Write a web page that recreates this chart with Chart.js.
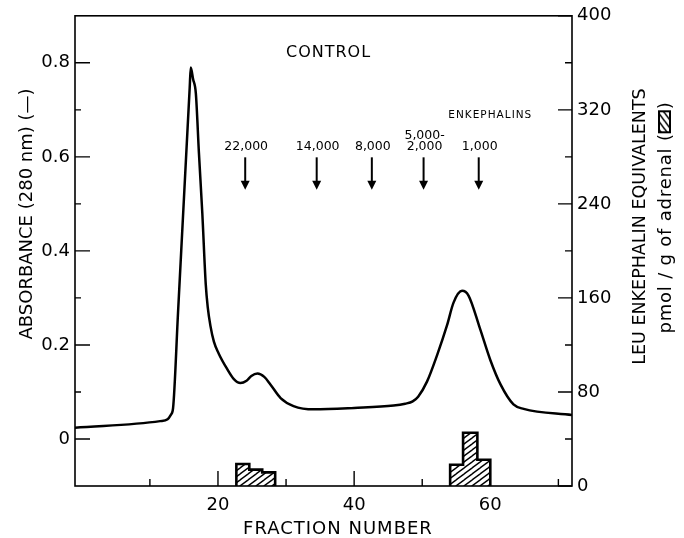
<!DOCTYPE html>
<html><head><meta charset="utf-8">
<script src="https://cdn.jsdelivr.net/npm/chart.js@4"></script>
<style>html,body{margin:0;padding:0;background:#fff}canvas{display:block}</style>
</head><body>
<canvas id="c" width="684" height="538"></canvas>
<script>
// ---------------- data ----------------
const absFraction = [-1, 11.5, 12.6, 13.1, 13.4, 14.13, 14.92, 15.5, 15.85, 16.0, 16.35, 16.75, 17.2, 17.7, 18.2, 18.5, 18.9, 19.4, 20.1, 21.3, 22.3, 23.3, 24.2, 24.9, 25.8, 26.8, 27.7, 29.2, 31.1, 34.1, 40.0, 45.8, 47.5, 48.6, 49.4, 50.7, 52.2, 53.65, 54.6, 55.85, 56.8, 58.5, 60.0, 61.5, 63.4, 64.9, 72];
const absValue    = [0.024, 0.038, 0.042, 0.052, 0.065, 0.268, 0.489, 0.651, 0.748, 0.79, 0.765, 0.735, 0.609, 0.48, 0.33, 0.28, 0.24, 0.207, 0.182, 0.150, 0.128, 0.119, 0.124, 0.134, 0.139, 0.132, 0.116, 0.087, 0.070, 0.063, 0.066, 0.071, 0.075, 0.080, 0.090, 0.122, 0.179, 0.242, 0.290, 0.315, 0.305, 0.234, 0.168, 0.116, 0.0735, 0.064, 0.051];

const histEdgesA  = [22.7, 24.6, 26.5, 28.4];
const histValuesA = [18.7, 13.9, 11.6];
const histEdgesB  = [54.1, 56.0, 58.1, 60.0];
const histValuesB = [18.1, 45.3, 22.3];

const markerFraction = [24.0, 34.5, 42.6, 50.2, 58.3];
const markerLabels   = [['22,000'], ['14,000'], ['8,000'], ['5,000-', '2,000'], ['1,000']];

const xTicks = [20, 40, 60];
const xTickLabels = ['20', '40', '60'];
const xMinor = [10, 30, 50, 70];
const leftTicks = [0, 0.2, 0.4, 0.6, 0.8];
const leftTickLabels = ['0', '0.2', '0.4', '0.6', '0.8'];
const leftMinor = [0.1, 0.3, 0.5, 0.7];
const rightTicks = [0, 80, 160, 240, 320, 400];
const rightTickLabels = ['0', '80', '160', '240', '320', '400'];
const rightMinor = [40, 120, 200, 280, 360];

// ---------------- styling helpers ----------------
const FONT = 'DejaVu Sans';
function makeHatch() {
  const w = 8, h = 6;
  const c = document.createElement('canvas');
  c.width = w; c.height = h;
  const g = c.getContext('2d');
  g.fillStyle = '#fff'; g.fillRect(0, 0, w, h);
  g.strokeStyle = '#000'; g.lineWidth = 1.4;
  for (let k = -1; k <= 1; k++) {
    g.beginPath();
    g.moveTo(-w + k * w, 2 * h);
    g.lineTo(2 * w + k * w, -h);
    g.stroke();
  }
  return document.getElementById('c').getContext('2d').createPattern(c, 'repeat');
}
const hatch = makeHatch();

function stepPoints(edges, vals) {
  const pts = [{x: edges[0], y: 0}];
  for (let i = 0; i < vals.length; i++) pts.push({x: edges[i + 1], y: vals[i]});
  pts.push({x: edges[edges.length - 1], y: 0});
  return pts;
}

const decor = {
  id: 'decor',
  afterDraw(chart) {
    const ctx = chart.ctx;
    const a = chart.chartArea;
    const xs = chart.scales.x, ys = chart.scales.y, y2 = chart.scales.y2;
    ctx.save();
    ctx.strokeStyle = '#000';
    ctx.fillStyle = '#000';
    // frame
    ctx.lineWidth = 1.6;
    ctx.strokeRect(a.left, a.top, a.right - a.left, a.bottom - a.top);
    // inner ticks
    ctx.lineWidth = 1.4;
    ctx.beginPath();
    leftTicks.forEach(v => { const p = ys.getPixelForValue(v); ctx.moveTo(a.left, p); ctx.lineTo(a.left + 15, p); });
    leftMinor.forEach(v => { const p = ys.getPixelForValue(v); ctx.moveTo(a.left, p); ctx.lineTo(a.left + 6, p); });
    rightTicks.forEach(v => { const p = y2.getPixelForValue(v); ctx.moveTo(a.right, p); ctx.lineTo(a.right - 14, p); });
    rightMinor.forEach(v => { const p = y2.getPixelForValue(v); ctx.moveTo(a.right, p); ctx.lineTo(a.right - 7, p); });
    xTicks.forEach(v => { const p = xs.getPixelForValue(v); ctx.moveTo(p, a.bottom); ctx.lineTo(p, a.bottom - 15); });
    xMinor.forEach(v => { const p = xs.getPixelForValue(v); ctx.moveTo(p, a.bottom); ctx.lineTo(p, a.bottom - 7); });
    ctx.stroke();

    // CONTROL
    ctx.textAlign = 'center';
    ctx.textBaseline = 'middle';
    ctx.font = '16px "' + FONT + '"';
    ctx.letterSpacing = '1px';
    ctx.fillText('CONTROL', xs.getPixelForValue(36.24), ys.getPixelForValue(0.822));
    // ENKEPHALINS
    ctx.font = '10.5px "' + FONT + '"';
    ctx.letterSpacing = '1px';
    ctx.fillText('ENKEPHALINS', xs.getPixelForValue(60.0), ys.getPixelForValue(0.688));
    // markers
    ctx.font = '12.5px "' + FONT + '"';
    ctx.letterSpacing = '0px';
    markerFraction.forEach((f, i) => {
      const px = xs.getPixelForValue(f);
      const lines = markerLabels[i];
      const baseY = ys.getPixelForValue(0.621);
      lines.forEach((t, j) => {
        ctx.fillText(t, px + 1, baseY - (lines.length - 1 - j) * 11);
      });
      const top = ys.getPixelForValue(0.599);
      const tip = ys.getPixelForValue(0.530);
      ctx.lineWidth = 2;
      ctx.beginPath(); ctx.moveTo(px, top); ctx.lineTo(px, tip - 7); ctx.stroke();
      ctx.beginPath(); ctx.moveTo(px - 4.5, tip - 9); ctx.lineTo(px + 4.5, tip - 9); ctx.lineTo(px, tip); ctx.closePath(); ctx.fill();
    });

    // x title
    ctx.font = '18px "' + FONT + '"';
    ctx.letterSpacing = '1px';
    ctx.textBaseline = 'alphabetic';
    ctx.fillText('FRACTION NUMBER', 338, 533.5);

    // left title
    ctx.save();
    ctx.translate(31.5, 214);
    ctx.rotate(-Math.PI / 2);
    ctx.font = '18px "' + FONT + '"';
    ctx.letterSpacing = '0px';
    ctx.fillText('ABSORBANCE (280 nm) (\u2014)', 0, 0);
    ctx.restore();

    // right title line 1
    ctx.save();
    ctx.translate(645, 226.5);
    ctx.rotate(-Math.PI / 2);
    ctx.font = '17.5px "' + FONT + '"';
    ctx.letterSpacing = '0px';
    ctx.fillText('LEU ENKEPHALIN EQUIVALENTS', 0, 0);
    ctx.restore();

    // right title line 2 with hatched key box
    ctx.save();
    ctx.translate(671, 217.5);
    ctx.rotate(-Math.PI / 2);
    ctx.font = '18px "' + FONT + '"';
    ctx.letterSpacing = '0.8px';
    ctx.textAlign = 'left';
    const t1 = 'pmol / g of adrenal (', t2 = ')';
    const w1 = ctx.measureText(t1).width, w2 = ctx.measureText(t2).width;
    const boxW = 21, boxH = 11;
    const total = w1 + boxW + 3 + w2;
    let x0 = -total / 2;
    ctx.fillText(t1, x0, 0);
    const bx = x0 + w1 + 1;
    ctx.fillStyle = hatch;
    ctx.fillRect(bx, -boxH - 1, boxW, boxH);
    ctx.lineWidth = 2;
    ctx.strokeRect(bx, -boxH - 1, boxW, boxH);
    ctx.fillStyle = '#000';
    ctx.fillText(t2, bx + boxW + 2, 0);
    ctx.restore();

    ctx.restore();
  }
};

const tickFont = {family: FONT, size: 18};

new Chart(document.getElementById('c'), {
  type: 'line',
  data: {
    datasets: [
      {
        label: 'Absorbance 280 nm',
        data: absFraction.map((x, i) => ({x, y: absValue[i]})),
        yAxisID: 'y',
        borderColor: '#000', borderWidth: 2.5,
        pointRadius: 0, fill: false,
        cubicInterpolationMode: 'monotone',
        order: 0
      },
      {
        label: 'Leu-enkephalin A',
        data: stepPoints(histEdgesA, histValuesA),
        yAxisID: 'y2', stepped: 'after',
        borderColor: '#000', borderWidth: 2.6, borderJoinStyle: 'miter',
        backgroundColor: hatch, fill: 'origin', pointRadius: 0,
        order: 1
      },
      {
        label: 'Leu-enkephalin B',
        data: stepPoints(histEdgesB, histValuesB),
        yAxisID: 'y2', stepped: 'after',
        borderColor: '#000', borderWidth: 2.6, borderJoinStyle: 'miter',
        backgroundColor: hatch, fill: 'origin', pointRadius: 0,
        order: 1
      }
    ]
  },
  options: {
    responsive: false,
    animation: false,
    layout: {padding: {top: 11, left: 0, right: 0, bottom: 0}},
    plugins: {legend: {display: false}, tooltip: {enabled: false}},
    scales: {
      x: {
        type: 'linear', min: -1, max: 72,
        grid: {display: false, drawTicks: false}, border: {display: false},
        afterBuildTicks: s => { s.ticks = xTicks.map(v => ({value: v})); },
        afterFit: s => { s.height = 52; },
        ticks: {font: tickFont, color: '#000', padding: 9, maxRotation: 0, autoSkip: false,
          callback: v => xTickLabels[xTicks.indexOf(v)]}
      },
      y: {
        type: 'linear', position: 'left', min: -0.1, max: 0.9,
        grid: {display: false, drawTicks: false}, border: {display: false},
        afterBuildTicks: s => { s.ticks = leftTicks.map(v => ({value: v})); },
        afterFit: s => { s.width = 75; },
        ticks: {font: tickFont, color: '#000', padding: 5, autoSkip: false,
          callback: v => leftTickLabels[leftTicks.indexOf(v)]}
      },
      y2: {
        type: 'linear', position: 'right', min: 0, max: 400,
        grid: {display: false, drawTicks: false}, border: {display: false},
        afterBuildTicks: s => { s.ticks = rightTicks.map(v => ({value: v})); },
        afterFit: s => { s.width = 112; },
        ticks: {font: tickFont, color: '#000', padding: 5, autoSkip: false,
          callback: v => rightTickLabels[rightTicks.indexOf(v)]}
      }
    }
  },
  plugins: [decor]
});
</script>
</body></html>
